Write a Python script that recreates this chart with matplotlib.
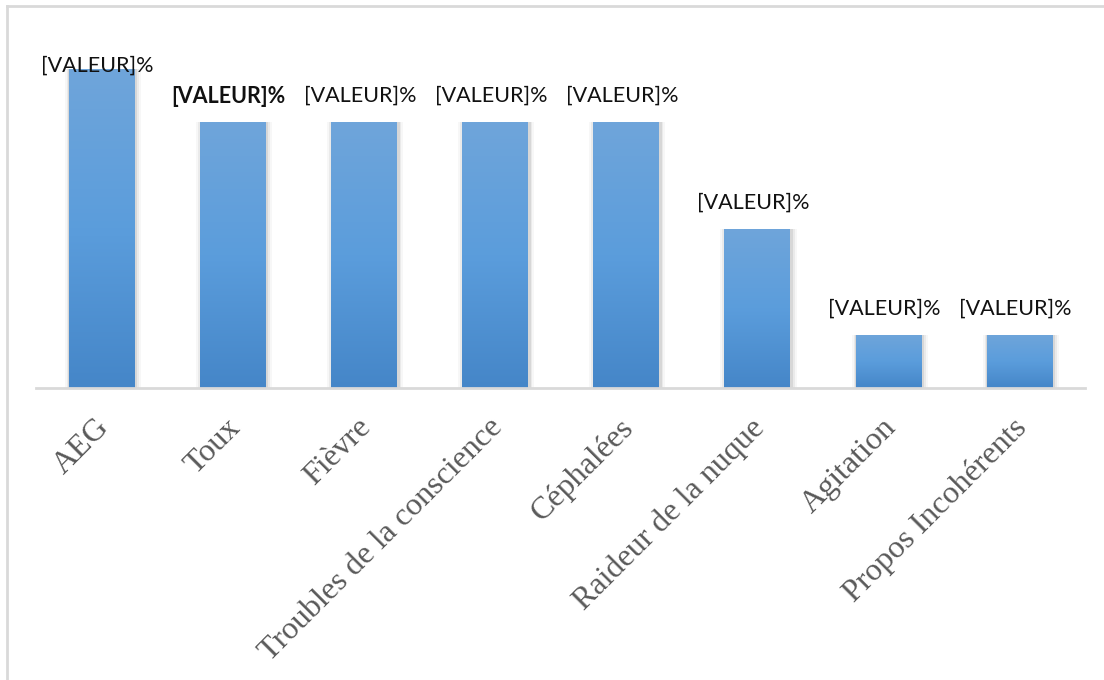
import numpy as np
import matplotlib.pyplot as plt
import matplotlib.transforms as mtransforms
from matplotlib.colors import LinearSegmentedColormap
from matplotlib.lines import Line2D

# Données du graphique
categories = ['AEG', 'Toux', 'Fièvre', 'Troubles de la conscience', 'Céphalées',
              'Raideur de la nuque', 'Agitation', 'Propos Incohérents']
valeurs = [6, 5, 5, 5, 5, 3, 1, 1]
etiquettes = ['[VALEUR]%'] * 8
etiquettes_gras = [False, True, False, False, False, False, False, False]

W, H = 1104, 680
fig = plt.figure(figsize=(W / 100, H / 100), dpi=100)
ax = fig.add_axes([36 / W, (H - 388) / H, (1085 - 36) / W, (388 - 69) / H])

x = np.arange(len(categories))
largeur = 0.5

# dégradé bleu (clair en haut, foncé en bas)
cmap = LinearSegmentedColormap.from_list('bleu', ['#4586c8', '#5b9ddc', '#6fa5da'])
grad = np.linspace(0, 1, 256).reshape(-1, 1)

for xi, v in zip(x, valeurs):
    # ombre douce
    for k, a in zip([0.08, 0.05, 0.025], [0.03, 0.05, 0.08]):
        ax.bar(xi + 0.01, v, width=largeur + k, color='black', alpha=a,
               linewidth=0, zorder=1)
    b = ax.bar(xi, v, width=largeur, color='none', linewidth=0, zorder=2)[0]
    im = ax.imshow(grad, cmap=cmap, aspect='auto', origin='lower',
                   extent=[xi - largeur / 2, xi + largeur / 2, 0, v], zorder=2)
    im.set_clip_path(b)

ax.set_xlim(-0.5, len(categories) - 0.5)
ax.set_ylim(0, max(valeurs))

# étiquettes de valeurs
px_par_unite = (388 - 69) / max(valeurs)
for xi, v, t, g in zip(x, valeurs, etiquettes, etiquettes_gras):
    if v == max(valeurs):
        y = v + 3 / px_par_unite
    else:
        y = v + 26 / px_par_unite
    ax.text(xi - 0.03, y, t, ha='center', va='center', fontsize=15.5,
            family='Lato', fontweight='bold' if g else 'normal',
            color='#111111', clip_on=False, zorder=5)

# axes
for s in ['top', 'right', 'left']:
    ax.spines[s].set_visible(False)
ax.spines['bottom'].set_color('#d9d9d9')
ax.spines['bottom'].set_linewidth(2)
ax.set_yticks([])
ax.set_xticks(x)
ax.set_xticklabels(categories, rotation=45, ha='right', va='top',
                   rotation_mode='anchor', family='Liberation Serif',
                   fontsize=23, color='#595959')
ax.tick_params(axis='x', length=0, pad=18)
decalage = mtransforms.ScaledTranslation(-7 / 100, 0, fig.dpi_scale_trans)
for lab in ax.get_xticklabels():
    lab.set_transform(lab.get_transform() + decalage)
ax.patch.set_alpha(0)

# cadre du graphique
fig.add_artist(Line2D([7 / W, 1], [1 - 6 / H, 1 - 6 / H], color='#d9d9d9', lw=2))
fig.add_artist(Line2D([7 / W, 7 / W], [0, 1 - 6 / H], color='#d9d9d9', lw=2))

fig.savefig('out.png', dpi=100)
